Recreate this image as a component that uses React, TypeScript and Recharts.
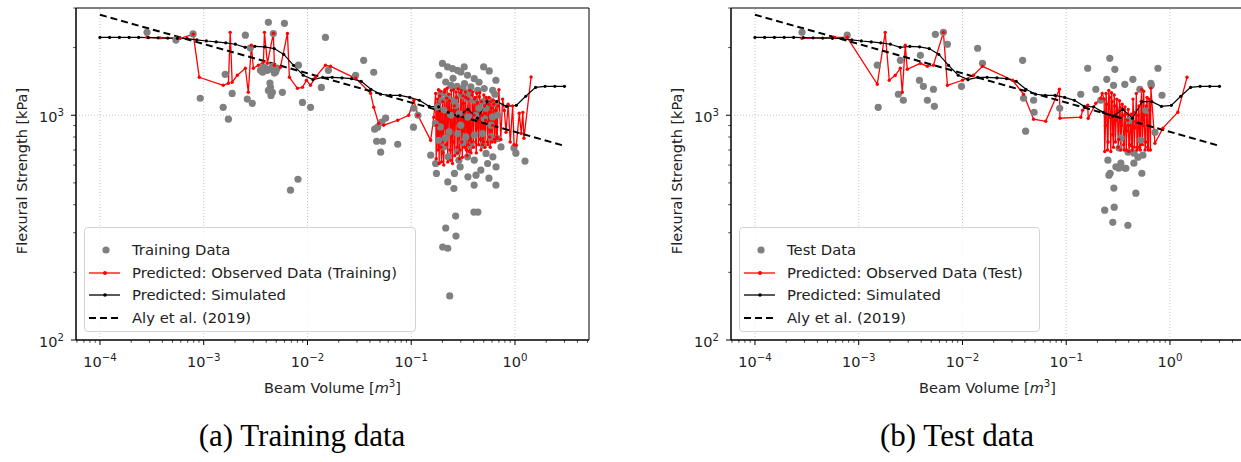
import React from 'react';
import { ComposedChart, Scatter, Line, XAxis, YAxis, ReferenceLine, ReferenceArea, Legend } from 'recharts';

// axis limits (log-log), read from the frame
const X_DOMAIN: [number, number] = [5.875e-5, 5.17];
const Y_DOMAIN: [number, number] = [100, 3000];

const X_MAJOR = [1e-4, 1e-3, 1e-2, 1e-1, 1];
const X_MAJOR_LABELS = ['\u22124', '\u22123', '\u22122', '\u22121', '0'];
const Y_MAJOR = [100, 1000];
const Y_MAJOR_LABELS = ['2', '3'];
const MINOR_MULT = [2, 3, 4, 5, 6, 7, 8, 9];

// Predicted: Simulated (same curve in both panels)
const simVolume = [
  1.0e-4, 1.24e-4, 1.54e-4, 1.91e-4, 2.36e-4, 2.93e-4, 3.63e-4, 4.5e-4, 5.58e-4, 6.92e-4,
  8.57e-4, 1.06e-3, 1.32e-3, 1.63e-3, 2.02e-3, 2.51e-3, 3.11e-3, 3.86e-3, 4.78e-3, 5.92e-3,
  7.34e-3, 9.1e-3, 1.13e-2, 1.4e-2, 1.73e-2, 2.15e-2, 2.66e-2, 3.3e-2, 4.09e-2, 5.07e-2,
  6.28e-2, 7.8e-2, 9.66e-2, 0.12, 0.149, 0.184, 0.228, 0.282, 0.351, 0.435,
  0.538, 0.668, 0.828, 1.03, 1.27, 1.58, 1.95, 2.42, 3.0,
];
const simStrength = [
  2220, 2220, 2220, 2220, 2220, 2215, 2210, 2205, 2200, 2190,
  2165, 2140, 2120, 2100, 2070, 2005, 2025, 2015, 1980, 1865,
  1668, 1506, 1440, 1475, 1475, 1465, 1455, 1415, 1305, 1240,
  1225, 1225, 1200, 1165, 1095, 1090, 1030, 990, 1063, 970,
  1150, 1150, 1095, 1107, 1215, 1330, 1345, 1345, 1345,
];

// Aly et al. (2019)
const alyVolume = [1e-4, 3.0];
const alyStrength = [2800, 731];

// (a) training
const trainingData: [number, number][] = [
  [2.84e-4, 2340], [5.4e-4, 2160], [7.9e-4, 2300], [9.25e-4, 1190], [1.54e-3, 1085], [1.61e-3, 1520],
  [1.73e-3, 960], [1.88e-3, 1250], [2.52e-3, 2270], [2.63e-3, 1180], [2.81e-3, 1990], [2.94e-3, 1130],
  [3.52e-3, 1585], [3.76e-3, 1635], [3.7e-3, 1555], [3.9e-3, 1620], [4.11e-3, 1585], [4.2e-3, 2590],
  [4.25e-3, 1600], [4.4e-3, 1330], [4.35e-3, 1390], [4.2e-3, 1290], [4.59e-3, 1265], [4.45e-3, 1225],
  [4.6e-3, 1650], [4.69e-3, 2310], [4.8e-3, 1540], [4.95e-3, 1560], [5.1e-3, 1620], [5.73e-3, 1265],
  [6.0e-3, 2565], [6.86e-3, 464], [8.18e-3, 1670], [8.1e-3, 519], [8.95e-3, 1140], [1.07e-2, 1085],
  [1.36e-2, 1330], [1.49e-2, 2220], [1.59e-2, 1585], [2.91e-2, 1505], [3.48e-2, 1755], [4.35e-2, 1553],
  [4.44e-2, 867], [4.64e-2, 766], [4.75e-2, 885], [5.07e-2, 685], [5.2e-2, 931], [5.3e-2, 766],
  [5.67e-2, 970], [7.41e-2, 743], [0.106, 1074], [0.105, 885], [0.116, 1000], [0.154, 664],
  [0.172, 610], [0.171, 919], [0.175, 551], [0.179, 1089], [0.185, 1506], [0.184, 774],
  [0.193, 1248], [0.191, 887], [0.195, 1166], [0.2, 1700], [0.201, 259], [0.207, 1052],
  [0.206, 723], [0.215, 1406], [0.213, 791], [0.215, 315], [0.224, 1640], [0.222, 1206],
  [0.225, 505], [0.227, 653], [0.225, 256], [0.232, 843], [0.235, 157], [0.241, 1359],
  [0.24, 1000], [0.25, 1613], [0.253, 1460], [0.259, 1166], [0.258, 472], [0.261, 551],
  [0.269, 1107], [0.268, 356], [0.27, 290], [0.279, 1585], [0.277, 1345], [0.281, 829],
  [0.279, 687], [0.288, 631], [0.29, 1018], [0.296, 589], [0.301, 1558], [0.303, 1227],
  [0.3, 903], [0.315, 759], [0.316, 1318], [0.324, 1640], [0.326, 1383], [0.336, 801],
  [0.349, 1506], [0.347, 1186], [0.351, 983], [0.349, 653], [0.352, 532], [0.36, 1265],
  [0.376, 1336], [0.378, 736], [0.402, 371], [0.405, 1455], [0.403, 1166], [0.407, 815],
  [0.405, 631], [0.404, 489], [0.42, 1000], [0.421, 541], [0.437, 1291], [0.439, 371],
  [0.449, 1074], [0.451, 1402], [0.469, 570], [0.487, 1146], [0.485, 829], [0.491, 736],
  [0.499, 1640], [0.505, 1314], [0.507, 967], [0.524, 1074], [0.526, 676], [0.545, 610],
  [0.561, 525], [0.565, 1574], [0.567, 1166], [0.586, 801], [0.588, 903], [0.61, 1291],
  [0.608, 983], [0.612, 653], [0.641, 1240], [0.655, 1431], [0.652, 1127], [0.657, 589],
  [0.655, 489], [0.681, 1000], [0.683, 788], [0.733, 723], [0.978, 714], [1.02, 678], [1.25, 625],
];

const trainingPredicted: [number, number][] = [
  [2.84e-4, 2222], [3.8e-4, 2210], [5.93e-4, 2199], [7.93e-4, 2291], [9.06e-4, 1475], [1.54e-3, 1359],
  [1.73e-3, 1388], [1.8e-3, 2338], [1.88e-3, 1402], [2.11e-3, 1506], [2.52e-3, 1618], [2.69e-3, 1265],
  [2.88e-3, 2047], [3.01e-3, 1618], [3.36e-3, 1668], [3.76e-3, 1720], [3.85e-3, 2338], [4.11e-3, 1702],
  [4.69e-3, 2313], [4.8e-3, 1668], [5.48e-3, 1634], [6.41e-3, 2313], [6.7e-3, 1475], [8.0e-3, 1318],
  [8.95e-3, 1331], [9.78e-3, 1431], [1.07e-2, 1359], [1.19e-2, 1475], [1.49e-2, 1668], [1.67e-2, 1651],
  [2.91e-2, 1460], [4.06e-2, 1253], [4.35e-2, 1085], [4.85e-2, 921], [5.42e-2, 903], [7.41e-2, 950],
  [9.46e-2, 1000], [0.106, 1166], [0.116, 1000], [0.154, 774], [0.165, 980],
  [0.172, 1250], [0.174, 640], [0.176, 900], [0.179, 1180], [0.181, 700], [0.183, 1300], [0.186, 610], [0.188, 1220],
  [0.191, 1280], [0.193, 720], [0.196, 620], [0.198, 1010], [0.201, 1150], [0.203, 680], [0.206, 600], [0.209, 1270],
  [0.211, 1300], [0.214, 880], [0.217, 740], [0.22, 1190], [0.222, 1320], [0.225, 620], [0.228, 960], [0.231, 1240],
  [0.234, 1160], [0.237, 700], [0.24, 630], [0.243, 1290], [0.246, 1050], [0.25, 610], [0.253, 760], [0.256, 1300],
  [0.26, 1100], [0.263, 660], [0.266, 920], [0.27, 1270], [0.273, 1200], [0.277, 720], [0.28, 680], [0.284, 1310],
  [0.288, 990], [0.291, 640], [0.295, 700], [0.299, 1260], [0.303, 1290], [0.307, 760], [0.311, 650], [0.315, 1220],
  [0.319, 1130], [0.323, 850], [0.327, 720], [0.331, 1270], [0.336, 1200], [0.34, 700], [0.345, 660], [0.349, 1050],
  [0.354, 1180], [0.358, 740], [0.363, 690], [0.368, 1290], [0.372, 920], [0.377, 680], [0.382, 760], [0.387, 1230],
  [0.392, 1270], [0.397, 720], [0.402, 1000], [0.408, 1180], [0.413, 1200], [0.418, 760], [0.424, 680], [0.429, 1250],
  [0.435, 1140], [0.44, 880], [0.446, 740], [0.452, 1210], [0.458, 1260], [0.464, 780], [0.47, 700], [0.476, 1150],
  [0.482, 1000], [0.488, 740], [0.495, 760], [0.501, 1230], [0.508, 1100], [0.514, 720], [0.521, 950], [0.528, 1200],
  [0.535, 1160], [0.542, 760], [0.549, 740], [0.556, 1120], [0.563, 1200], [0.57, 800], [0.578, 720], [0.585, 1150],
  [0.593, 1080], [0.601, 760], [0.609, 900], [0.617, 1170], [0.625, 1120], [0.633, 780], [0.641, 760], [0.649, 1050],
  [0.658, 1150], [0.667, 800], [0.675, 790], [0.684, 1100],
  [0.7, 1300], [0.73, 780], [0.76, 1180], [0.79, 1050], [0.82, 840], [0.86, 1120], [0.9, 760],
  [0.95, 1100], [0.98, 740], [1.03, 735], [1.1, 1020], [1.15, 830], [1.19, 1030], [1.22, 790], [1.43, 1480],
];

// (b) test
const testData: [number, number][] = [
  [2.84e-4, 2340], [7.74e-4, 2270], [1.51e-3, 1670], [1.54e-3, 1085], [2.41e-3, 1240], [2.52e-3, 1755],
  [2.69e-3, 1166], [3.85e-3, 1431], [3.93e-3, 1848], [4.2e-3, 1345], [4.59e-3, 1166], [5.25e-3, 1305],
  [5.36e-3, 1096], [5.48e-3, 2291], [6.55e-3, 2338], [7.16e-3, 2069], [9.78e-3, 1345], [1.4e-2, 1986],
  [1.56e-2, 1702], [3.8e-2, 1755], [3.88e-2, 1190], [4.06e-2, 849], [4.85e-2, 1166], [4.9e-2, 1031],
  [8.65e-2, 1074], [0.138, 1240], [0.161, 1618], [0.193, 1305], [0.215, 1166], [0.235, 378],
  [0.246, 1445], [0.252, 631], [0.258, 541], [0.263, 1791], [0.265, 552], [0.281, 334],
  [0.288, 474], [0.29, 390], [0.286, 1359], [0.294, 1601], [0.301, 590], [0.321, 581],
  [0.323, 714], [0.336, 612], [0.338, 791], [0.367, 1373], [0.369, 581], [0.376, 581],
  [0.393, 324], [0.395, 685], [0.402, 950], [0.439, 1445], [0.449, 612], [0.451, 678],
  [0.469, 450], [0.491, 651], [0.513, 1305], [0.524, 774], [0.536, 552], [0.548, 664],
  [0.586, 1052], [0.655, 1388], [0.66, 1359], [0.716, 840], [0.766, 1618], [0.838, 1227],
];

const testPredicted: [number, number][] = [
  [2.84e-4, 2199], [5.8e-4, 2222], [7.74e-4, 2222], [1.51e-3, 1373], [1.8e-3, 2338], [1.97e-3, 1431],
  [2.25e-3, 1506], [2.52e-3, 1618], [2.63e-3, 1265], [2.81e-3, 2047], [2.94e-3, 1601], [3.93e-3, 1702],
  [4.59e-3, 1651], [5.25e-3, 1668], [6.55e-3, 2338], [7.16e-3, 1359], [1.0e-2, 1431], [1.28e-2, 1506],
  [1.56e-2, 1651], [3.04e-2, 1431], [3.88e-2, 1240], [4.85e-2, 960], [6.34e-2, 940], [8.6e-2, 1305],
  [8.7e-2, 970], [0.138, 980], [0.144, 1052], [0.161, 1107], [0.163, 970], [0.193, 1130],
  [0.215, 1190], [0.222, 1250],
  [0.232, 1180], [0.235, 690], [0.239, 900], [0.242, 1250], [0.246, 1120], [0.25, 700], [0.253, 760], [0.257, 1290],
  [0.261, 1200], [0.265, 980], [0.269, 690], [0.273, 1260], [0.277, 1150], [0.281, 820], [0.285, 720], [0.29, 1230],
  [0.294, 1100], [0.298, 760], [0.303, 950], [0.307, 1180], [0.312, 1050], [0.317, 720], [0.321, 780], [0.326, 1160],
  [0.331, 1080], [0.336, 700], [0.341, 900], [0.346, 1120], [0.351, 1000], [0.357, 740], [0.362, 700], [0.368, 1090],
  [0.373, 1010], [0.379, 700], [0.384, 850], [0.39, 950], [0.396, 1060], [0.402, 690], [0.408, 740], [0.414, 900],
  [0.42, 1010], [0.427, 730], [0.433, 700], [0.44, 1180], [0.446, 1030], [0.453, 720], [0.46, 880], [0.467, 940],
  [0.474, 1250], [0.481, 700], [0.488, 720], [0.495, 1000], [0.503, 1100], [0.51, 720], [0.518, 700], [0.526, 1150],
  [0.534, 1300], [0.542, 740], [0.55, 900], [0.558, 1280], [0.566, 1000], [0.575, 700], [0.584, 760], [0.592, 1100],
  [0.601, 1200], [0.61, 720], [0.62, 700], [0.629, 1180], [0.638, 1050], [0.648, 700],
  [0.655, 1318], [0.716, 751], [0.855, 876], [1.19, 1031], [1.46, 1475],
];

const toPoints = (rows: [number, number][]) => rows.map(([x, y]) => ({ x, y }));
const simPoints = simVolume.map((x, i) => ({ x, y: simStrength[i] }));
const alyPoints = alyVolume.map((x, i) => ({ x, y: alyStrength[i] }));

const X_LABELS = new Map(X_MAJOR.map((v, i) => [v, X_MAJOR_LABELS[i]]));
const Y_LABELS = new Map(Y_MAJOR.map((v, i) => [v, Y_MAJOR_LABELS[i]]));
const X_TICKS = [...X_MAJOR, ...[1e-5, 1e-4, 1e-3, 1e-2, 1e-1, 1].flatMap((d) => MINOR_MULT.map((m) => m * d))]
  .filter((v) => v >= X_DOMAIN[0] && v <= X_DOMAIN[1])
  .sort((a, b) => a - b);
const Y_TICKS = [...Y_MAJOR, ...[100, 1000].flatMap((d) => MINOR_MULT.map((m) => m * d))]
  .filter((v) => v >= Y_DOMAIN[0] && v <= Y_DOMAIN[1])
  .sort((a, b) => a - b);

const TEXT = '#222';
const GRID = '#b8b8b8';

const XTick = (props: any) => {
  const { x, y, payload } = props;
  const label = X_LABELS.get(payload.value);
  const major = label !== undefined;
  return (
    <g>
      <line x1={x} x2={x} y1={y} y2={y + (major ? 5 : 2.8)} stroke="#000" strokeWidth={major ? 1 : 0.7} />
      {major && (
        <text x={x} y={y + 27} textAnchor="middle" fontSize={14.5} fill={TEXT}>
          10<tspan dy={-6} fontSize={10.2}>{label}</tspan>
        </text>
      )}
    </g>
  );
};

const YTick = (props: any) => {
  const { x, y, payload } = props;
  const label = Y_LABELS.get(payload.value);
  const major = label !== undefined;
  return (
    <g>
      <line x1={x - (major ? 5 : 2.8)} x2={x} y1={y} y2={y} stroke="#000" strokeWidth={major ? 1 : 0.7} />
      {major && (
        <text x={x - 12} y={y + 7} textAnchor="end" fontSize={14.5} fill={TEXT}>
          10<tspan dy={-6} fontSize={10.2}>{label}</tspan>
        </text>
      )}
    </g>
  );
};

const XLabel = (props: any) => {
  const { x, y, width } = props.viewBox;
  return (
    <text x={x + width / 2} y={y + 53} textAnchor="middle" fontSize={14.5} fill={TEXT}>
      Beam Volume [<tspan fontStyle="italic">m</tspan>
      <tspan dy={-6} fontSize={10.2}>3</tspan>
      <tspan dy={6}>]</tspan>
    </text>
  );
};

const YLabel = (props: any) => {
  const { y, height } = props.viewBox;
  const cy = y + height / 2 - 3;
  return (
    <text x={27} y={cy} transform={`rotate(-90, 27, ${cy})`} textAnchor="middle" fontSize={14.5} fill={TEXT}>
      Flexural Strength [kPa]
    </text>
  );
};

const GreyDot = (p: any) => <circle cx={p.cx} cy={p.cy} r={3.6} fill="#808080" />;

const LegendBox = ({ labels, width }: { labels: string[]; width: number }) => {
  const rows = [22, 45, 67, 90];
  return (
    <div
      style={{
        width,
        height: 105,
        boxSizing: 'border-box',
        border: '1px solid #d4d4d4',
        borderRadius: 4,
        background: 'rgba(255,255,255,0.8)',
      }}
    >
      <svg width={width - 2} height={103} style={{ display: 'block' }}>
        <circle cx={21} cy={rows[0]} r={3.6} fill="#808080" />
        <line x1={4} x2={35} y1={rows[1]} y2={rows[1]} stroke="#ff0000" strokeWidth={1.3} />
        <circle cx={20} cy={rows[1]} r={2} fill="#ff0000" />
        <line x1={4} x2={35} y1={rows[2]} y2={rows[2]} stroke="#000" strokeWidth={1.3} />
        <circle cx={20} cy={rows[2]} r={1.8} fill="#000" />
        <line x1={4} x2={35} y1={rows[3]} y2={rows[3]} stroke="#000" strokeWidth={2} strokeDasharray="7 4" />
        {labels.map((t, i) => (
          <text key={t} x={47} y={rows[i] + 5} fontSize={14.8} fill={TEXT}>
            {t}
          </text>
        ))}
      </svg>
    </div>
  );
};

interface PanelProps {
  left: number;
  scatter: [number, number][];
  predicted: [number, number][];
  labels: string[];
  legendWidth: number;
  caption: string;
}

const Panel = ({ left, scatter, predicted, labels, legendWidth, caption }: PanelProps) => (
  <div style={{ position: 'absolute', left, top: 0, width: 604, height: 462 }}>
    <ComposedChart width={600} height={400} margin={{ top: 8, right: 11, bottom: 0, left: 0 }}>
      <XAxis
        dataKey="x"
        type="number"
        scale="log"
        domain={X_DOMAIN}
        allowDataOverflow
        ticks={X_TICKS}
        interval={0}
        tick={XTick}
        tickSize={0}
        tickMargin={0}
        tickLine={false}
        axisLine={{ stroke: '#000' }}
        height={60}
        label={XLabel}
      />
      <YAxis
        dataKey="y"
        type="number"
        scale="log"
        domain={Y_DOMAIN}
        allowDataOverflow
        ticks={Y_TICKS}
        interval={0}
        tick={YTick}
        tickSize={0}
        tickMargin={0}
        tickLine={false}
        axisLine={{ stroke: '#000' }}
        width={76}
        label={YLabel}
      />
      {X_MAJOR.map((v) => (
        <ReferenceLine key={v} x={v} stroke={GRID} strokeDasharray="1 2" strokeWidth={0.8} />
      ))}
      <ReferenceLine y={1000} stroke={GRID} strokeDasharray="1 2" strokeWidth={0.8} />
      <Scatter data={toPoints(scatter)} dataKey="y" shape={GreyDot} isAnimationActive={false} />
      <Line
        data={toPoints(predicted)}
        dataKey="y"
        stroke="#ff0000"
        strokeWidth={1.3}
        dot={{ r: 1.7, fill: '#ff0000', stroke: 'none' }}
        activeDot={false}
        isAnimationActive={false}
      />
      <Line
        data={simPoints}
        dataKey="y"
        stroke="#000"
        strokeWidth={1.2}
        dot={{ r: 1.6, fill: '#000', stroke: 'none' }}
        activeDot={false}
        isAnimationActive={false}
      />
      <Line
        data={alyPoints}
        dataKey="y"
        stroke="#000"
        strokeWidth={2}
        strokeDasharray="7 4"
        dot={false}
        activeDot={false}
        isAnimationActive={false}
      />
      <ReferenceArea x1={X_DOMAIN[0]} x2={X_DOMAIN[1]} y1={Y_DOMAIN[0]} y2={Y_DOMAIN[1]} fill="none" stroke="#000" strokeWidth={1} />
      <Legend
        verticalAlign="middle"
        align="center"
        layout="horizontal"
        content={() => <LegendBox labels={labels} width={legendWidth} />}
        wrapperStyle={{ left: 84, top: 227, width: legendWidth, height: 105 }}
      />
    </ComposedChart>
    <div
      style={{
        position: 'absolute',
        left: 0,
        top: 420,
        width: 604,
        textAlign: 'center',
        fontFamily: '"Liberation Serif", serif',
        fontSize: 31,
        lineHeight: '31px',
        color: '#000',
      }}
    >
      {caption}
    </div>
  </div>
);

export default function App() {
  return (
    <div
      style={{
        position: 'absolute',
        left: 0,
        top: 0,
        width: 1241,
        height: 462,
        overflow: 'hidden',
        background: '#fff',
        fontFamily: '"DejaVu Sans", sans-serif',
      }}
    >
      <Panel
        left={0}
        scatter={trainingData}
        predicted={trainingPredicted}
        labels={['Training Data', 'Predicted: Observed Data (Training)', 'Predicted: Simulated', 'Aly et al. (2019)']}
        legendWidth={332}
        caption="(a) Training data"
      />
      <Panel
        left={655}
        scatter={testData}
        predicted={testPredicted}
        labels={['Test Data', 'Predicted: Observed Data (Test)', 'Predicted: Simulated', 'Aly et al. (2019)']}
        legendWidth={301}
        caption="(b) Test data"
      />
    </div>
  );
}
